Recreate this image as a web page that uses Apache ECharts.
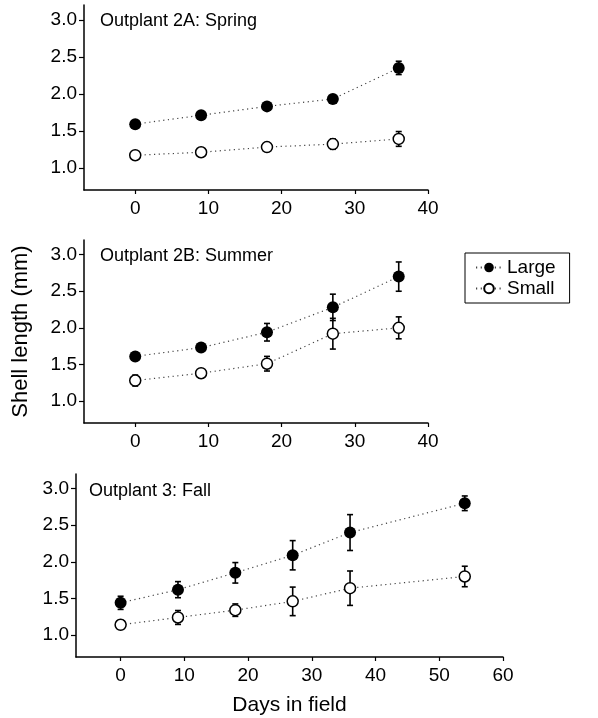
<!DOCTYPE html>
<html><head><meta charset="utf-8">
<script src="https://cdn.jsdelivr.net/npm/echarts@6/dist/echarts.min.js"></script>
<style>html,body{margin:0;padding:0;background:#fff}#c{width:598px;height:718px}</style>
</head><body><div id="c"></div>
<script>
const days12 = [0, 9, 18, 27, 36];
const days3 = [0, 9, 18, 27, 36, 54];
const springLarge = [1.59, 1.71, 1.83, 1.93, 2.35];
const springLargeErr = [0.02, 0.02, 0.02, 0.05, 0.09];
const springSmall = [1.17, 1.21, 1.28, 1.32, 1.39];
const springSmallErr = [0.02, 0.02, 0.02, 0.07, 0.10];
const summerLarge = [1.61, 1.73, 1.94, 2.28, 2.70];
const summerLargeErr = [0.03, 0.03, 0.12, 0.18, 0.20];
const summerSmall = [1.28, 1.38, 1.51, 1.92, 2.00];
const summerSmallErr = [0.075, 0.06, 0.10, 0.21, 0.15];
const fallLarge = [1.44, 1.62, 1.85, 2.09, 2.40, 2.80];
const fallLargeErr = [0.09, 0.11, 0.14, 0.20, 0.245, 0.10];
const fallSmall = [1.14, 1.24, 1.34, 1.46, 1.64, 1.80];
const fallSmallErr = [0.06, 0.095, 0.085, 0.195, 0.235, 0.14];
const xTicks12 = [0, 10, 20, 30, 40];
const xTicks3 = [0, 10, 20, 30, 40, 50, 60];
const yTicks = [1.0, 1.5, 2.0, 2.5, 3.0];
const panelTitles = ['Outplant 2A: Spring', 'Outplant 2B: Summer', 'Outplant 3: Fall'];

const FONT = 'Liberation Sans, Arial, sans-serif';
const panels = [
  {days: days12, L: springLarge, LE: springLargeErr, S: springSmall, SE: springSmallErr, ticks: xTicks12, xmax: 40},
  {days: days12, L: summerLarge, LE: summerLargeErr, S: summerSmall, SE: summerSmallErr, ticks: xTicks12, xmax: 40},
  {days: days3, L: fallLarge, LE: fallLargeErr, S: fallSmall, SE: fallSmallErr, ticks: xTicks3, xmax: 60}
];
const grids = [
  {left: 84, top: 5, width: 344, height: 185},
  {left: 84, top: 240, width: 344, height: 183},
  {left: 76, top: 474, width: 427, height: 183}
];
const titlePos = [[100, 12], [100, 247], [89, 482]];

function errRender(params, api) {
  const x = api.value(0), lo = api.value(1), hi = api.value(2);
  const a = api.coord([x, hi]), b = api.coord([x, lo]);
  const st = {stroke: '#000', lineWidth: 1.6};
  return {type: 'group', children: [
    {type: 'line', shape: {x1: a[0], y1: a[1], x2: b[0], y2: b[1]}, style: st},
    {type: 'line', shape: {x1: a[0] - 3, y1: a[1], x2: a[0] + 3, y2: a[1]}, style: st},
    {type: 'line', shape: {x1: b[0] - 3, y1: b[1], x2: b[0] + 3, y2: b[1]}, style: st}
  ]};
}

const xAxis = [], yAxis = [], series = [], title = [];
panels.forEach((p, i) => {
  xAxis.push({
    type: 'value', gridIndex: i, min: -7, max: p.xmax,
    axisLine: {show: true, onZero: false, lineStyle: {color: '#000', width: 1.5}},
    axisTick: {show: true, length: 4, customValues: p.ticks, lineStyle: {color: '#000', width: 1.2}},
    axisLabel: {customValues: p.ticks, color: '#000', fontSize: 19, fontFamily: FONT, margin: 9},
    splitLine: {show: false},
    name: i === 2 ? 'Days in field' : '', nameLocation: 'middle', nameGap: 38,
    nameTextStyle: {fontSize: 21, color: '#000', fontFamily: FONT}
  });
  yAxis.push({
    type: 'value', gridIndex: i, min: 0.7, max: 3.2,
    axisLine: {show: true, onZero: false, lineStyle: {color: '#000', width: 1.5}},
    axisTick: {show: true, length: 5, customValues: yTicks, lineStyle: {color: '#000', width: 1.2}},
    axisLabel: {customValues: yTicks, color: '#000', fontSize: 19, fontFamily: FONT, margin: 7,
      formatter: v => v.toFixed(1)},
    splitLine: {show: false},
    name: i === 1 ? 'Shell length (mm)' : '', nameLocation: 'middle', nameGap: 52,
    nameTextStyle: {fontSize: 22, color: '#000', fontFamily: FONT}
  });
  title.push({text: panelTitles[i], left: titlePos[i][0], top: titlePos[i][1], padding: 0,
    textStyle: {fontSize: 18, fontWeight: 'normal', color: '#000', fontFamily: FONT}});
  series.push({
    name: 'errL' + i, type: 'custom', xAxisIndex: i, yAxisIndex: i, z: 1,
    renderItem: errRender, encode: {x: 0, y: [1, 2]},
    data: p.days.map((d, k) => [d, p.L[k] - p.LE[k], p.L[k] + p.LE[k]])
  });
  series.push({
    name: 'errS' + i, type: 'custom', xAxisIndex: i, yAxisIndex: i, z: 1,
    renderItem: errRender, encode: {x: 0, y: [1, 2]},
    data: p.days.map((d, k) => [d, p.S[k] - p.SE[k], p.S[k] + p.SE[k]])
  });
  series.push({
    name: 'Large', type: 'line', xAxisIndex: i, yAxisIndex: i, z: 3,
    symbol: 'circle', symbolSize: 12,
    itemStyle: {color: '#000'},
    lineStyle: {color: '#444', width: 1.2, type: [1.2, 3.5]},
    data: p.days.map((d, k) => [d, p.L[k]])
  });
  series.push({
    name: 'Small', type: 'line', xAxisIndex: i, yAxisIndex: i, z: 3,
    symbol: 'circle', symbolSize: 11,
    itemStyle: {color: '#fff', borderColor: '#000', borderWidth: 1.5},
    lineStyle: {color: '#444', width: 1.2, type: [1.2, 3.5]},
    data: p.days.map((d, k) => [d, p.S[k]])
  });
});

const chart = echarts.init(document.getElementById('c'), null, {renderer: 'canvas'});
chart.setOption({
  animation: false,
  backgroundColor: '#fff',
  title: title,
  grid: grids,
  xAxis: xAxis,
  yAxis: yAxis,
  legend: {
    data: ['Large', 'Small'], orient: 'vertical', left: 465, top: 253,
    borderColor: '#000', borderWidth: 1, padding: [5, 14, 5, 10], itemGap: 2,
    itemWidth: 26, itemHeight: 12,
    textStyle: {fontSize: 19, color: '#000', fontFamily: FONT}
  },
  series: series
});
</script></body></html>
